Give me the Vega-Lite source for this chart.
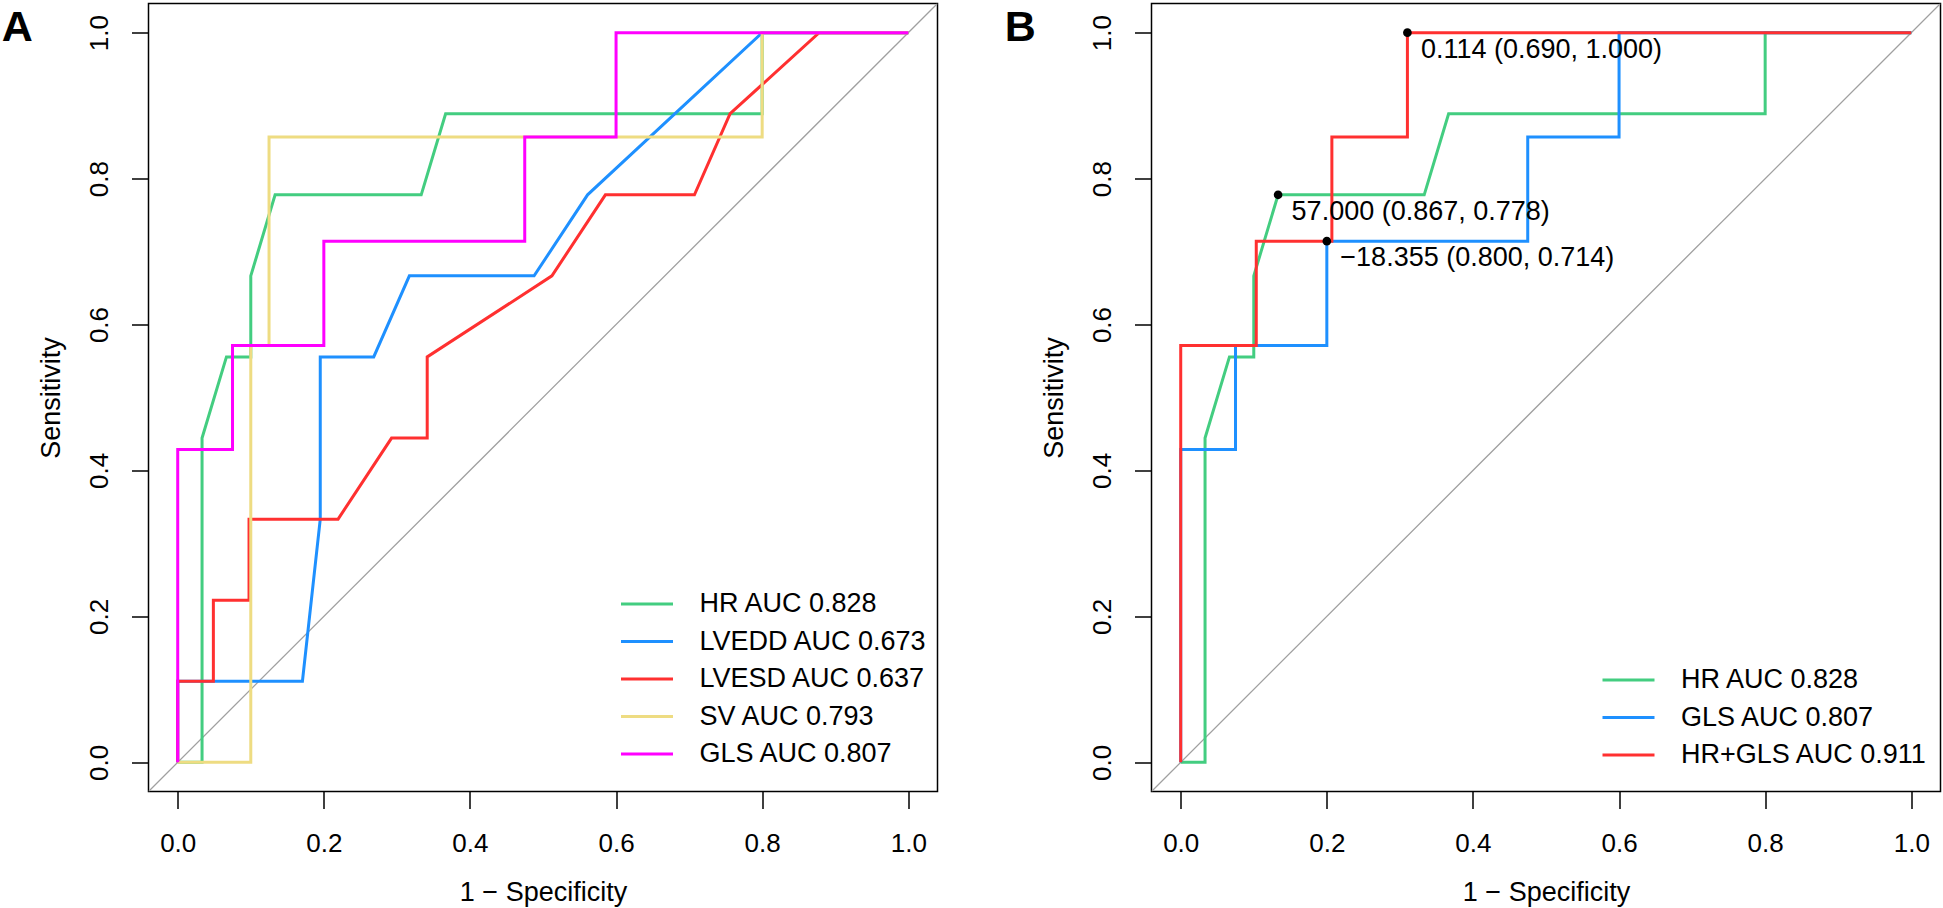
{
  "$schema": "https://vega.github.io/schema/vega-lite/v6.json",
  "background": "white",
  "padding": {"left": 0.5, "top": 2.5, "right": 0, "bottom": 0},
  "spacing": 65,
  "config": {
    "font": "Liberation Sans",
    "view": {"stroke": "black", "strokeWidth": 1.5},
    "axis": {
      "grid": false, "domain": false,
      "tickColor": "black", "tickWidth": 1.5, "tickSize": 17,
      "labelFont": "Liberation Sans", "labelFontSize": 26, "labelColor": "black",
      "titleFont": "Liberation Sans", "titleFontSize": 27, "titleFontWeight": "normal", "titleColor": "black",
      "format": ".1f", "labelFlush": false, "labelOverlap": false
    },
    "axisX": {"labelBaseline": "alphabetic", "labelPadding": 43, "titleBaseline": "alphabetic", "titleY": 109},
    "axisY": {"labelAngle": -90, "labelAlign": "center", "labelBaseline": "alphabetic", "labelPadding": 24, "titleAngle": -90, "titleBaseline": "alphabetic", "titleX": -89.3},
    "legend": {
      "orient": "none", "title": null, "symbolType": "M-2,0H2", "symbolSize": 676, "symbolStrokeWidth": 3.2,
      "labelFont": "Liberation Sans", "labelFontSize": 27, "labelColor": "black", "labelOffset": 37.5,
      "rowPadding": 9.5, "labelLimit": 0, "padding": 0
    },
    "title": {"anchor": "start", "frame": "group", "orient": "top", "font": "Liberation Sans", "fontSize": 43, "fontWeight": "bold", "color": "black", "dx": -146.8, "dy": 50.5, "baseline": "alphabetic", "offset": 0}
  },
  "resolve": {"scale": {"color": "independent"}, "legend": {"color": "independent"}},
  "datasets": {
    "diag": [{"fpr": -0.04, "tpr": -0.04}, {"fpr": 1.04, "tpr": 1.04}],
    "rocA": [
      {"label": "HR AUC 0.828", "i": 0, "fpr": 0, "tpr": 0},
      {"label": "HR AUC 0.828", "i": 1, "fpr": 0.0333, "tpr": 0},
      {"label": "HR AUC 0.828", "i": 2, "fpr": 0.0333, "tpr": 0.4444},
      {"label": "HR AUC 0.828", "i": 3, "fpr": 0.0667, "tpr": 0.5556},
      {"label": "HR AUC 0.828", "i": 4, "fpr": 0.1, "tpr": 0.5556},
      {"label": "HR AUC 0.828", "i": 5, "fpr": 0.1, "tpr": 0.6667},
      {"label": "HR AUC 0.828", "i": 6, "fpr": 0.1333, "tpr": 0.7778},
      {"label": "HR AUC 0.828", "i": 7, "fpr": 0.3333, "tpr": 0.7778},
      {"label": "HR AUC 0.828", "i": 8, "fpr": 0.3667, "tpr": 0.8889},
      {"label": "HR AUC 0.828", "i": 9, "fpr": 0.8, "tpr": 0.8889},
      {"label": "HR AUC 0.828", "i": 10, "fpr": 0.8, "tpr": 1},
      {"label": "HR AUC 0.828", "i": 11, "fpr": 1, "tpr": 1},
      {"label": "LVEDD AUC 0.673", "i": 0, "fpr": 0, "tpr": 0},
      {"label": "LVEDD AUC 0.673", "i": 1, "fpr": 0, "tpr": 0.1111},
      {"label": "LVEDD AUC 0.673", "i": 2, "fpr": 0.1707, "tpr": 0.1111},
      {"label": "LVEDD AUC 0.673", "i": 3, "fpr": 0.1951, "tpr": 0.3333},
      {"label": "LVEDD AUC 0.673", "i": 4, "fpr": 0.1951, "tpr": 0.5556},
      {"label": "LVEDD AUC 0.673", "i": 5, "fpr": 0.2683, "tpr": 0.5556},
      {"label": "LVEDD AUC 0.673", "i": 6, "fpr": 0.3171, "tpr": 0.6667},
      {"label": "LVEDD AUC 0.673", "i": 7, "fpr": 0.4878, "tpr": 0.6667},
      {"label": "LVEDD AUC 0.673", "i": 8, "fpr": 0.561, "tpr": 0.7778},
      {"label": "LVEDD AUC 0.673", "i": 9, "fpr": 0.8, "tpr": 1},
      {"label": "LVEDD AUC 0.673", "i": 10, "fpr": 1, "tpr": 1},
      {"label": "LVESD AUC 0.637", "i": 0, "fpr": 0, "tpr": 0},
      {"label": "LVESD AUC 0.637", "i": 1, "fpr": 0, "tpr": 0.1111},
      {"label": "LVESD AUC 0.637", "i": 2, "fpr": 0.0488, "tpr": 0.1111},
      {"label": "LVESD AUC 0.637", "i": 3, "fpr": 0.0488, "tpr": 0.2222},
      {"label": "LVESD AUC 0.637", "i": 4, "fpr": 0.0976, "tpr": 0.2222},
      {"label": "LVESD AUC 0.637", "i": 5, "fpr": 0.0976, "tpr": 0.3333},
      {"label": "LVESD AUC 0.637", "i": 6, "fpr": 0.2195, "tpr": 0.3333},
      {"label": "LVESD AUC 0.637", "i": 7, "fpr": 0.2927, "tpr": 0.4444},
      {"label": "LVESD AUC 0.637", "i": 8, "fpr": 0.3415, "tpr": 0.4444},
      {"label": "LVESD AUC 0.637", "i": 9, "fpr": 0.3415, "tpr": 0.5556},
      {"label": "LVESD AUC 0.637", "i": 10, "fpr": 0.5122, "tpr": 0.6667},
      {"label": "LVESD AUC 0.637", "i": 11, "fpr": 0.5854, "tpr": 0.7778},
      {"label": "LVESD AUC 0.637", "i": 12, "fpr": 0.7073, "tpr": 0.7778},
      {"label": "LVESD AUC 0.637", "i": 13, "fpr": 0.7561, "tpr": 0.8889},
      {"label": "LVESD AUC 0.637", "i": 14, "fpr": 0.878, "tpr": 1},
      {"label": "LVESD AUC 0.637", "i": 15, "fpr": 1, "tpr": 1},
      {"label": "SV AUC 0.793", "i": 0, "fpr": 0, "tpr": 0},
      {"label": "SV AUC 0.793", "i": 1, "fpr": 0.1, "tpr": 0},
      {"label": "SV AUC 0.793", "i": 2, "fpr": 0.1, "tpr": 0.5714},
      {"label": "SV AUC 0.793", "i": 3, "fpr": 0.125, "tpr": 0.5714},
      {"label": "SV AUC 0.793", "i": 4, "fpr": 0.125, "tpr": 0.8571},
      {"label": "SV AUC 0.793", "i": 5, "fpr": 0.8, "tpr": 0.8571},
      {"label": "SV AUC 0.793", "i": 6, "fpr": 0.8, "tpr": 1},
      {"label": "SV AUC 0.793", "i": 7, "fpr": 1, "tpr": 1},
      {"label": "GLS AUC 0.807", "i": 0, "fpr": 0, "tpr": 0},
      {"label": "GLS AUC 0.807", "i": 1, "fpr": 0, "tpr": 0.4286},
      {"label": "GLS AUC 0.807", "i": 2, "fpr": 0.075, "tpr": 0.4286},
      {"label": "GLS AUC 0.807", "i": 3, "fpr": 0.075, "tpr": 0.5714},
      {"label": "GLS AUC 0.807", "i": 4, "fpr": 0.2, "tpr": 0.5714},
      {"label": "GLS AUC 0.807", "i": 5, "fpr": 0.2, "tpr": 0.7143},
      {"label": "GLS AUC 0.807", "i": 6, "fpr": 0.475, "tpr": 0.7143},
      {"label": "GLS AUC 0.807", "i": 7, "fpr": 0.475, "tpr": 0.8571},
      {"label": "GLS AUC 0.807", "i": 8, "fpr": 0.6, "tpr": 0.8571},
      {"label": "GLS AUC 0.807", "i": 9, "fpr": 0.6, "tpr": 1},
      {"label": "GLS AUC 0.807", "i": 10, "fpr": 1, "tpr": 1}
    ],
    "rocB": [
      {"label": "HR AUC 0.828", "i": 0, "fpr": 0, "tpr": 0},
      {"label": "HR AUC 0.828", "i": 1, "fpr": 0.0333, "tpr": 0},
      {"label": "HR AUC 0.828", "i": 2, "fpr": 0.0333, "tpr": 0.4444},
      {"label": "HR AUC 0.828", "i": 3, "fpr": 0.0667, "tpr": 0.5556},
      {"label": "HR AUC 0.828", "i": 4, "fpr": 0.1, "tpr": 0.5556},
      {"label": "HR AUC 0.828", "i": 5, "fpr": 0.1, "tpr": 0.6667},
      {"label": "HR AUC 0.828", "i": 6, "fpr": 0.1333, "tpr": 0.7778},
      {"label": "HR AUC 0.828", "i": 7, "fpr": 0.3333, "tpr": 0.7778},
      {"label": "HR AUC 0.828", "i": 8, "fpr": 0.3667, "tpr": 0.8889},
      {"label": "HR AUC 0.828", "i": 9, "fpr": 0.8, "tpr": 0.8889},
      {"label": "HR AUC 0.828", "i": 10, "fpr": 0.8, "tpr": 1},
      {"label": "HR AUC 0.828", "i": 11, "fpr": 1, "tpr": 1},
      {"label": "GLS AUC 0.807", "i": 0, "fpr": 0, "tpr": 0},
      {"label": "GLS AUC 0.807", "i": 1, "fpr": 0, "tpr": 0.4286},
      {"label": "GLS AUC 0.807", "i": 2, "fpr": 0.075, "tpr": 0.4286},
      {"label": "GLS AUC 0.807", "i": 3, "fpr": 0.075, "tpr": 0.5714},
      {"label": "GLS AUC 0.807", "i": 4, "fpr": 0.2, "tpr": 0.5714},
      {"label": "GLS AUC 0.807", "i": 5, "fpr": 0.2, "tpr": 0.7143},
      {"label": "GLS AUC 0.807", "i": 6, "fpr": 0.475, "tpr": 0.7143},
      {"label": "GLS AUC 0.807", "i": 7, "fpr": 0.475, "tpr": 0.8571},
      {"label": "GLS AUC 0.807", "i": 8, "fpr": 0.6, "tpr": 0.8571},
      {"label": "GLS AUC 0.807", "i": 9, "fpr": 0.6, "tpr": 1},
      {"label": "GLS AUC 0.807", "i": 10, "fpr": 1, "tpr": 1},
      {"label": "HR+GLS AUC 0.911", "i": 0, "fpr": 0, "tpr": 0},
      {"label": "HR+GLS AUC 0.911", "i": 1, "fpr": 0, "tpr": 0.5714},
      {"label": "HR+GLS AUC 0.911", "i": 2, "fpr": 0.1034, "tpr": 0.5714},
      {"label": "HR+GLS AUC 0.911", "i": 3, "fpr": 0.1034, "tpr": 0.7143},
      {"label": "HR+GLS AUC 0.911", "i": 4, "fpr": 0.2069, "tpr": 0.7143},
      {"label": "HR+GLS AUC 0.911", "i": 5, "fpr": 0.2069, "tpr": 0.8571},
      {"label": "HR+GLS AUC 0.911", "i": 6, "fpr": 0.3103, "tpr": 0.8571},
      {"label": "HR+GLS AUC 0.911", "i": 7, "fpr": 0.3103, "tpr": 1},
      {"label": "HR+GLS AUC 0.911", "i": 8, "fpr": 1, "tpr": 1}
    ],
    "thr": [
      {"text": "57.000 (0.867, 0.778)", "fpr": 0.1333, "tpr": 0.7778},
      {"text": "−18.355 (0.800, 0.714)", "fpr": 0.2, "tpr": 0.7143},
      {"text": "0.114 (0.690, 1.000)", "fpr": 0.3103, "tpr": 1}
    ]
  },
  "hconcat": [
    {
      "width": 789, "height": 788,
      "title": {"text": "A"},
      "layer": [
        {
          "data": {"name": "diag"},
          "mark": {"type": "line", "color": "#A0A0A0", "strokeWidth": 1.3, "clip": true},
          "encoding": {
            "x": {"field": "fpr", "type": "quantitative", "scale": {"domain": [-0.04, 1.04], "nice": false, "zero": false}, "title": "1 − Specificity", "axis": {"values": [0, 0.2, 0.4, 0.6, 0.8, 1]}},
            "y": {"field": "tpr", "type": "quantitative", "scale": {"domain": [-0.04, 1.04], "nice": false, "zero": false}, "title": "Sensitivity", "axis": {"values": [0, 0.2, 0.4, 0.6, 0.8, 1]}}
          }
        },
        {
          "data": {"name": "rocA"},
          "mark": {"type": "line", "strokeWidth": 3},
          "encoding": {
            "x": {"field": "fpr", "type": "quantitative"},
            "y": {"field": "tpr", "type": "quantitative"},
            "order": {"field": "i", "type": "quantitative"},
            "color": {
              "field": "label", "type": "nominal",
              "scale": {"domain": ["HR AUC 0.828", "LVEDD AUC 0.673", "LVESD AUC 0.637", "SV AUC 0.793", "GLS AUC 0.807"], "range": ["#43CD80", "#1E90FF", "#FF3030", "#EEDC82", "#FF00FF"]},
              "legend": {"legendX": 483.5, "legendY": 585.5}
            }
          }
        }
      ]
    },
    {
      "width": 789, "height": 788,
      "title": {"text": "B"},
      "layer": [
        {
          "data": {"name": "diag"},
          "mark": {"type": "line", "color": "#A0A0A0", "strokeWidth": 1.3, "clip": true},
          "encoding": {
            "x": {"field": "fpr", "type": "quantitative", "scale": {"domain": [-0.04, 1.04], "nice": false, "zero": false}, "title": "1 − Specificity", "axis": {"values": [0, 0.2, 0.4, 0.6, 0.8, 1]}},
            "y": {"field": "tpr", "type": "quantitative", "scale": {"domain": [-0.04, 1.04], "nice": false, "zero": false}, "title": "Sensitivity", "axis": {"values": [0, 0.2, 0.4, 0.6, 0.8, 1]}}
          }
        },
        {
          "data": {"name": "rocB"},
          "mark": {"type": "line", "strokeWidth": 3},
          "encoding": {
            "x": {"field": "fpr", "type": "quantitative"},
            "y": {"field": "tpr", "type": "quantitative"},
            "order": {"field": "i", "type": "quantitative"},
            "color": {
              "field": "label", "type": "nominal",
              "scale": {"domain": ["HR AUC 0.828", "GLS AUC 0.807", "HR+GLS AUC 0.911"], "range": ["#43CD80", "#1E90FF", "#FF3030"]},
              "legend": {"legendX": 462, "legendY": 661.5}
            }
          }
        },
        {
          "data": {"name": "thr"},
          "mark": {"type": "point", "filled": true, "color": "black", "size": 75, "opacity": 1},
          "encoding": {
            "x": {"field": "fpr", "type": "quantitative"},
            "y": {"field": "tpr", "type": "quantitative"}
          }
        },
        {
          "data": {"name": "thr"},
          "mark": {"type": "text", "align": "left", "baseline": "alphabetic", "dx": 13.5, "dy": 25, "fontSize": 27, "font": "Liberation Sans", "color": "black"},
          "encoding": {
            "x": {"field": "fpr", "type": "quantitative"},
            "y": {"field": "tpr", "type": "quantitative"},
            "text": {"field": "text"}
          }
        }
      ]
    }
  ]
}
